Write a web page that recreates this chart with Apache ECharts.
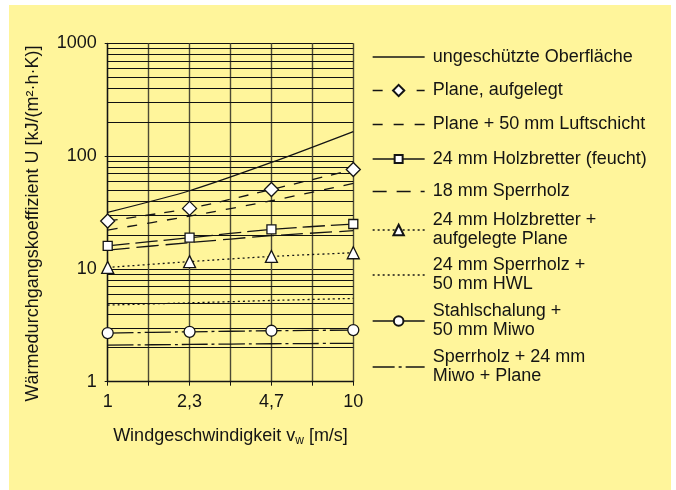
<!DOCTYPE html>
<html><head><meta charset="utf-8">
<script src="https://cdn.jsdelivr.net/npm/echarts@6/dist/echarts.min.js"></script>
<style>
html,body{margin:0;padding:0;background:#fff;}
#frame{position:absolute;left:9px;top:5px;width:662px;height:485px;background:#fff59b;}
#chart{position:absolute;left:0;top:0;width:676px;height:490px;}
</style></head>
<body><div id="frame"></div><div id="chart"></div>
<script>
const xLabels = ['1', '2,3', '4,7', '10'];
const yTickLabels = ['1', '10', '100', '1000'];
const seriesNames = [
  'ungeschützte Oberfläche',
  'Plane, aufgelegt',
  'Plane + 50 mm Luftschicht',
  '24 mm Holzbretter (feucht)',
  '18 mm Sperrholz',
  '24 mm Holzbretter +\naufgelegte Plane',
  '24 mm Sperrholz +\n50 mm HWL',
  'Stahlschalung +\n50 mm Miwo',
  'Sperrholz + 24 mm\nMiwo + Plane'
];
const sUngeschuetzt = [31.7, 49.3, 87.8, 165];
const sPlane = [26.6, 34.4, 50.6, 76];
const sLuftschicht = [22.1, 29.4, 40.2, 57.2];
const sHolzFeucht = [16.0, 18.9, 22.4, 25.0];
const sSperrholz18 = [14.7, 17.1, 19.7, 21.8];
const sHolzPlane = [10.3, 11.6, 12.9, 13.9];
const sSperrHWL = [4.78, 5.0, 5.25, 5.47];
const sStahl = [2.70, 2.77, 2.83, 2.87];
const sSperrMiwo = [2.11, 2.14, 2.17, 2.19];

const seriesValues = [sUngeschuetzt, sPlane, sLuftschicht, sHolzFeucht, sSperrholz18, sHolzPlane, sSperrHWL, sStahl, sSperrMiwo];
const styles = [
  {dash: 'solid', legDash: 'solid', sym: 'none', size: 0},
  {dash: [10, 9], legDash: [10, 12], sym: 'diamond', size: 14},
  {dash: [10, 10], legDash: [10, 11], sym: 'none', size: 0},
  {dash: [22, 6], legDash: 'solid', sym: 'rect', size: 9},
  {dash: [22, 7], legDash: [14, 10], sym: 'none', size: 0},
  {dash: [2, 3], legDash: [2, 3], sym: 'triangle', size: 12},
  {dash: [2, 3], legDash: [2, 3], sym: 'none', size: 0},
  {dash: [26, 4, 3, 4], legDash: 'solid', sym: 'circle', size: 11},
  {dash: [26, 4, 3, 4], legDash: [22, 4, 3, 4], sym: 'none', size: 0}
];
const legendCenters = [57, 90.5, 124.5, 159, 191.5, 230, 275, 321, 367];
const FONT = '"Liberation Sans", Arial, Helvetica, sans-serif';
const INK = '#141414';

// minor gridlines of the log axis (2..9 per decade)
const gridVals = [];
for (let d = 1; d < 1000; d *= 10) for (let k = 2; k <= 9; k++) gridVals.push(k * d);

const chart = echarts.init(document.getElementById('chart'), null, {renderer: 'canvas'});

const series = seriesValues.map((vals, i) => {
  const st = styles[i];
  return {
    name: seriesNames[i],
    type: 'line',
    data: vals.map((v, j) => [j * 2, v]),
    smooth: 0.25,
    symbol: st.sym,
    symbolSize: st.size,
    showSymbol: st.sym !== 'none',
    color: INK,
    lineStyle: {color: INK, width: 1.3, type: st.dash},
    itemStyle: {color: '#ffffff', borderColor: INK, borderWidth: 1.3},
    emphasis: {disabled: true},
    animation: false,
    z: 5
  };
});
series.push({
  name: '_grid', type: 'line', data: [], silent: true, animation: false, z: 1,
  markLine: {
    silent: true, symbol: 'none', animation: false,
    label: {show: false},
    lineStyle: {color: '#111', width: 1, type: 'solid'},
    emphasis: {disabled: true},
    data: gridVals.map(v => ({yAxis: v}))
  }
});

const legends = seriesNames.map((n, i) => {
  const twoLine = n.indexOf('\n') >= 0;
  const st = styles[i];
  const ih = st.sym === 'rect' ? 10 : st.sym === 'diamond' ? 14 : st.sym === 'triangle' ? 13 : st.sym === 'circle' ? 12 : 12;
  const boxH = twoLine ? 38 : 19;
  const lg = {
    data: [n], orient: 'vertical', left: 372, top: legendCenters[i] - boxH / 2,
    itemWidth: 52, itemHeight: ih, itemGap: 0, padding: 0, selectedMode: false,
    lineStyle: {type: st.legDash, width: 1.3, color: INK},
    textStyle: {fontSize: 18, lineHeight: 19, color: INK, fontFamily: FONT, padding: [0, 0, 0, 3]}
  };
  if (st.sym === 'none') lg.itemStyle = {opacity: 0, borderWidth: 0};
  return lg;
});

chart.setOption({
  backgroundColor: 'transparent',
  animation: false,
  grid: {left: 107.7, top: 43.3, right: 676 - 353.3, bottom: 490 - 381.7, containLabel: false},
  xAxis: {
    type: 'value', min: 0, max: 6, interval: 1,
    axisLine: {show: true, lineStyle: {color: INK, width: 1.3}},
    axisTick: {show: true, length: 4, lineStyle: {color: INK, width: 1}},
    axisLabel: {
      margin: 11, fontSize: 18, color: INK, fontFamily: FONT,
      formatter: v => (v % 2 === 0 ? xLabels[v / 2] : '')
    },
    splitLine: {show: true, lineStyle: {color: '#4d4a35', width: 1.4}},
    name: 'Windgeschwindigkeit v{sub|w} [m/s]',
    nameLocation: 'middle', nameGap: 43,
    nameTextStyle: {
      fontSize: 18, color: INK, fontFamily: FONT,
      rich: {sub: {fontSize: 12, fontFamily: FONT, color: INK, padding: [10, 0, 0, 0]}}
    }
  },
  yAxis: {
    type: 'log', logBase: 10, min: 1, max: 1000,
    axisLine: {show: true, lineStyle: {color: INK, width: 1.3}},
    axisTick: {show: true, length: 3, lineStyle: {color: INK}},
    axisLabel: {
      margin: 11, fontSize: 18, color: INK, fontFamily: FONT,
      formatter: v => { const idx = Math.round(Math.log10(v)); return yTickLabels[idx] !== undefined ? yTickLabels[idx] : ''; }
    },
    splitLine: {show: true, lineStyle: {color: '#111', width: 1}},
    name: 'Wärmedurchgangskoeffizient U [kJ/(m²·h·K)]',
    nameLocation: 'middle', nameGap: 66, nameRotate: 90,
    nameTextStyle: {fontSize: 18, color: INK, fontFamily: FONT, padding: [0, 22, 0, 0]}
  },
  legend: legends,
  series: series
});
</script>
</body></html>
